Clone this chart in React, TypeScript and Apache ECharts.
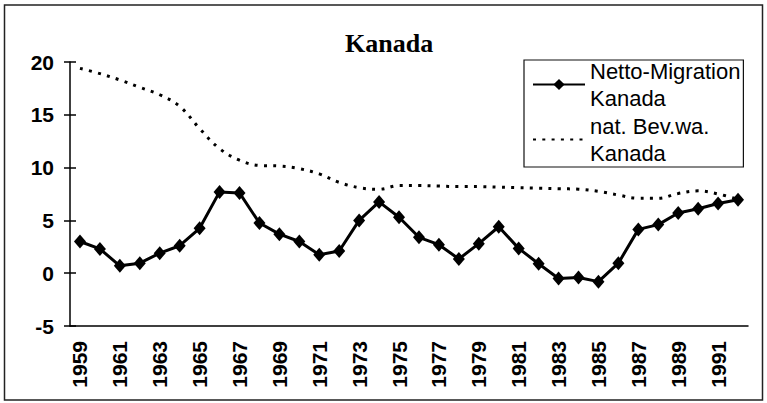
import React, { useEffect, useRef } from "react";
import * as echarts from "echarts";

const years: string[] = [
  "1959", "1960", "1961", "1962", "1963", "1964", "1965", "1966", "1967", "1968",
  "1969", "1970", "1971", "1972", "1973", "1974", "1975", "1976", "1977", "1978",
  "1979", "1980", "1981", "1982", "1983", "1984", "1985", "1986", "1987", "1988",
  "1989", "1990", "1991", "1992",
];

const nettoMigration: number[] = [
  3.0, 2.3, 0.7, 0.95, 1.9, 2.6, 4.25, 7.7, 7.6, 4.75,
  3.7, 3.0, 1.75, 2.1, 5.0, 6.75, 5.3, 3.4, 2.7, 1.35,
  2.8, 4.4, 2.35, 0.9, -0.5, -0.4, -0.8, 0.95, 4.15, 4.6,
  5.7, 6.1, 6.6, 6.95,
];

const natBevWa: number[] = [
  19.4, 18.9, 18.3, 17.6, 16.9, 15.8, 13.7, 11.8, 10.7, 10.2,
  10.15, 9.9, 9.4, 8.6, 8.1, 7.95, 8.3, 8.3, 8.25, 8.2,
  8.2, 8.15, 8.1, 8.05, 8.0, 7.95, 7.75, 7.4, 7.1, 7.1,
  7.55, 7.8, 7.5, 7.0,
];

const seriesNames: string[] = ["Netto-Migration Kanada", "nat. Bev.wa. Kanada"];
const titleText = "Kanada";
const yMin = -5;
const yMax = 20;
const yStep = 5;

export default function App() {
  const ref = useRef<HTMLDivElement>(null);

  useEffect(() => {
    if (!ref.current) return;
    const chart = echarts.init(ref.current, null, { renderer: "svg" });
    const sans = "'Liberation Sans', Arial, sans-serif";
    chart.setOption({
      animation: false,
      backgroundColor: "#ffffff",
      title: {
        text: titleText,
        left: 345,
        top: 30,
        padding: 0,
        textStyle: {
          fontFamily: "'Liberation Serif', 'Times New Roman', serif",
          fontWeight: "bold",
          fontSize: 26,
          color: "#000",
        },
      },
      legend: {
        orient: "vertical",
        left: 524,
        top: 60,
        padding: [0, 3, 3, 8],
        itemGap: 6,
        itemWidth: 52,
        itemHeight: 14,
        borderColor: "#111",
        borderWidth: 1.2,
        formatter: (name: string) => name.replace(" Kanada", "\nKanada"),
        textStyle: {
          fontFamily: sans,
          fontSize: 22,
          lineHeight: 27,
          color: "#000",
          padding: [0, 0, -27, 0],
        },
        data: [
          { name: seriesNames[0] },
          { name: seriesNames[1], itemStyle: { opacity: 0 } },
        ],
      },
      graphic: [
        {
          type: "rect",
          shape: { x: 4.5, y: 5, width: 758, height: 395 },
          style: { fill: "none", stroke: "#222", lineWidth: 1.5 },
          silent: true,
        },
      ],
      grid: { left: 70, right: 19, top: 62, bottom: 77, containLabel: false },
      xAxis: [
        {
          type: "category",
          data: years,
          position: "bottom",
          boundaryGap: true,
          axisLine: { onZero: false, lineStyle: { color: "#000", width: 1.5 } },
          axisTick: { interval: 0, length: 5, lineStyle: { color: "#000", width: 1.5 } },
          axisLabel: {
            interval: 1,
            rotate: 90,
            margin: 15,
            fontFamily: sans,
            fontWeight: "bold",
            fontSize: 21,
            color: "#000",
          },
          splitLine: { show: false },
        },
        {
          type: "category",
          data: years,
          position: "bottom",
          boundaryGap: true,
          axisLine: { show: false, onZero: false },
          axisTick: { interval: 0, inside: true, length: 5, lineStyle: { color: "#000", width: 1.5 } },
          axisLabel: { show: false },
          splitLine: { show: false },
        },
      ],
      yAxis: [
        {
          type: "value",
          min: yMin,
          max: yMax,
          interval: yStep,
          position: "left",
          axisLine: { show: true, onZero: false, lineStyle: { color: "#000", width: 1.5 } },
          axisTick: { show: true, length: 6, lineStyle: { color: "#000", width: 1.5 } },
          axisLabel: {
            margin: 16,
            fontFamily: sans,
            fontWeight: "bold",
            fontSize: 21,
            color: "#000",
          },
          splitLine: { show: false },
        },
        {
          type: "value",
          min: yMin,
          max: yMax,
          interval: yStep,
          position: "left",
          axisLine: { show: false, onZero: false },
          axisTick: { show: true, inside: true, length: 6, lineStyle: { color: "#000", width: 1.5 } },
          axisLabel: { show: false },
          splitLine: { show: false },
        },
      ],
      series: [
        {
          name: seriesNames[0],
          type: "line",
          data: nettoMigration,
          xAxisIndex: 0,
          yAxisIndex: 0,
          symbol: "diamond",
          symbolSize: [12, 14],
          showAllSymbol: true,
          lineStyle: { color: "#000", width: 3 },
          itemStyle: { color: "#000" },
          z: 3,
        },
        {
          name: seriesNames[1],
          type: "line",
          data: natBevWa,
          xAxisIndex: 0,
          yAxisIndex: 0,
          smooth: 0.4,
          symbol: "none",
          lineStyle: { color: "#000", width: 3, type: [3, 6.3] },
          itemStyle: { color: "#000" },
          z: 2,
        },
      ],
    });
    return () => chart.dispose();
  }, []);

  return (
    <div
      ref={ref}
      style={{ position: "absolute", left: 0, top: 0, width: 767, height: 403 }}
    />
  );
}
